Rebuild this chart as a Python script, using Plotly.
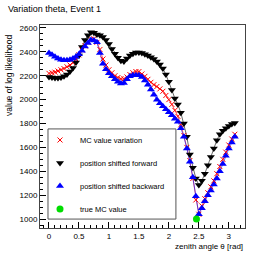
import plotly.graph_objects as go

theta = [0.00, 0.05, 0.10, 0.15, 0.20, 0.25, 0.30, 0.35, 0.40, 0.45,
         0.50, 0.55, 0.60, 0.65, 0.70, 0.75, 0.80, 0.85, 0.90, 0.95,
         1.00, 1.05, 1.10, 1.15, 1.20, 1.25, 1.30, 1.35, 1.40, 1.45,
         1.50, 1.55, 1.60, 1.65, 1.70, 1.75, 1.80, 1.85, 1.90, 1.95,
         2.00, 2.05, 2.10, 2.15, 2.20, 2.25, 2.30, 2.35, 2.40, 2.45,
         2.50, 2.55, 2.60, 2.65, 2.70, 2.75, 2.80, 2.85, 2.90, 2.95,
         3.00, 3.05, 3.10]

mc_variation = [2220, 2225, 2230, 2240, 2250, 2260, 2275, 2290, 2310, 2340,
                2375, 2415, 2450, 2480, 2505, 2510, 2480, 2420, 2340, 2290,
                2250, 2225, 2200, 2185, 2175, 2175, 2190, 2210, 2225, 2235,
                2235, 2215, 2195, 2170, 2145, 2125, 2110, 2090, 2070, 2035,
                2000, 1960, 1910, 1860, 1790, 1700, 1600, 1490, 1340, 1160,
                1040, 1110, 1170, 1220, 1270, 1320, 1380, 1440, 1500, 1560,
                1620, 1670, 1710]

shift_forward = [2190, 2185, 2182, 2182, 2185, 2195, 2210, 2235, 2265, 2310,
                 2370, 2440, 2500, 2540, 2565, 2560, 2545, 2540, 2525, 2500,
                 2465, 2425, 2385, 2350, 2325, 2320, 2345, 2370, 2385, 2395,
                 2395, 2390, 2380, 2370, 2355, 2340, 2320, 2295, 2260, 2210,
                 2150, 2080, 2010, 1960, 1890, 1800, 1690, 1540, 1430, 1340,
                 1285, 1320, 1380, 1450, 1520, 1590, 1660, 1710, 1740, 1760,
                 1780, 1795, 1805]

shift_backward = [2390, 2375, 2360, 2345, 2335, 2330, 2330, 2335, 2345, 2360,
                  2380, 2410, 2445, 2475, 2500, 2495, 2480, 2390, 2300, 2255,
                  2220, 2195, 2170, 2150, 2135, 2140, 2170, 2195, 2205, 2205,
                  2205, 2190, 2160, 2125, 2085, 2040, 2000, 1970, 1945, 1920,
                  1895, 1870, 1840, 1815, 1760, 1690, 1590, 1480, 1350, 1190,
                  1040, 1090, 1150, 1200, 1240, 1290, 1340, 1400, 1460, 1530,
                  1590, 1640, 1690]

true_theta = [2.46]
true_value = [1000]

series_names = ["MC value variation", "position shifted forward",
                "position shifted backward", "true MC value"]

FONT = "Liberation Sans, Arial, Helvetica, sans-serif"

fig = go.Figure()
# thin connecting lines (not in legend)
for ys, col in [(mc_variation, "red"), (shift_forward, "black"), (shift_backward, "blue")]:
    fig.add_trace(go.Scatter(x=theta, y=ys, mode="lines", showlegend=False,
                             hoverinfo="skip", line=dict(color=col, width=0.6)))

fig.add_trace(go.Scatter(
    x=theta, y=mc_variation, mode="markers", name=series_names[0],
    marker=dict(symbol="x-thin", size=5, line=dict(color="red", width=1), color="red"),
    legendgroup="a"))
fig.add_trace(go.Scatter(
    x=theta, y=shift_forward, mode="markers", name=series_names[1],
    marker=dict(symbol="triangle-down", size=7, color="black"),
    legendgroup="b"))
fig.add_trace(go.Scatter(
    x=theta, y=shift_backward, mode="markers", name=series_names[2],
    marker=dict(symbol="triangle-up", size=7, color="blue"),
    legendgroup="c"))
fig.add_trace(go.Scatter(
    x=true_theta, y=true_value, mode="markers", name=series_names[3],
    marker=dict(symbol="circle", size=7, color="#00dd00"),
    legendgroup="d"))

fig.update_layout(
    width=267, height=255,
    margin=dict(l=40, r=22, t=25, b=27, autoexpand=False),
    paper_bgcolor="white", plot_bgcolor="white",
    font=dict(family=FONT, size=8, color="black"),
    showlegend=True,
    legend=dict(
        x=0.0, y=0.505, xanchor="left", yanchor="top",
        bgcolor="rgba(0,0,0,0)", borderwidth=0,
        font=dict(family=FONT, size=7.5),
        tracegroupgap=4, itemwidth=30, traceorder="grouped"),
    title=dict(text="Variation theta, Event 1", x=0.03, xanchor="left",
               y=0.965, yanchor="middle",
               font=dict(family=FONT, size=9, color="black")),
    shapes=[dict(type="rect", xref="paper", yref="paper",
                 x0=0.039, x1=0.663, y0=0.044, y1=0.488, layer="above",
                 fillcolor="white", line=dict(color="#555555", width=1))],
)

fig.update_xaxes(
    range=[-0.15, 3.27], showgrid=False, zeroline=False,
    showline=True, linecolor="#444444", linewidth=1, mirror=True,
    ticks="inside", ticklen=6, tickcolor="black", dtick=0.5, tick0=0,
    tickfont=dict(size=8), tickangle=0, automargin=False,
    minor=dict(ticks="inside", ticklen=3, dtick=0.1, tickcolor="black"))
fig.update_yaxes(
    range=[925, 2625], showgrid=False, zeroline=False,
    showline=True, linecolor="#444444", linewidth=1, mirror=True,
    ticks="inside", ticklen=6, tickcolor="black", dtick=200, tick0=1000,
    tickfont=dict(size=8), automargin=False,
    minor=dict(ticks="inside", ticklen=3, dtick=50, tickcolor="black"))

fig.add_annotation(text="value of log likelihood", xref="paper", yref="paper",
                   x=-0.151, y=0.754, xanchor="center", yanchor="middle",
                   textangle=-90, showarrow=False, font=dict(size=8.5))
fig.add_annotation(text="zenith angle θ [rad]", xref="paper", yref="paper",
                   x=1.0, y=-0.06, xanchor="right", yanchor="top",
                   showarrow=False, font=dict(size=8))

fig.write_html("out.html",
               config={"displayModeBar": False},
               post_script="document.body.style.margin='0';")
